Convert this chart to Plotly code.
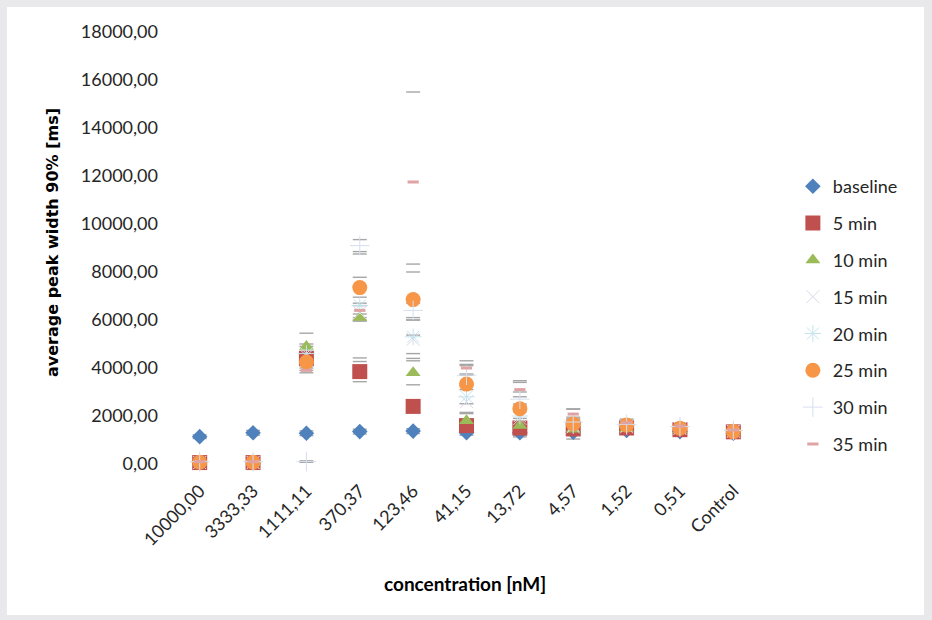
import plotly.graph_objects as go

# Concentrations (categorical x axis)
categories = ["10000,00", "3333,33", "1111,11", "370,37", "123,46", "41,15",
              "13,72", "4,57", "1,52", "0,51", "Control"]

# Average peak width 90% [ms] per time point
baseline = [1140, 1300, 1280, 1350, 1370, 1300, 1300, 1320, 1400, 1350, 1280]
min5 = [60, 60, 4400, 3850, 2400, 1600, 1500, 1460, 1500, 1430, 1340]
min10 = [50, 50, 4900, 6100, 3800, 1800, 1600, 1450, 1480, 1420, 1330]
min15 = [60, 60, 4500, 6300, 5200, 2600, 1900, 1550, 1550, 1480, 1360]
min20 = [60, 60, 4600, 6600, 5300, 2800, 2000, 1600, 1580, 1500, 1380]
min25 = [70, 70, 4250, 7350, 6850, 3330, 2300, 1670, 1620, 1490, 1350]
min30 = [100, 100, 100, 9100, 6400, 3700, 2700, 1750, 1650, 1560, 1400]
min35 = [100, 100, 3900, 6400, 11750, 4000, 3100, 2080, 1720, 1580, 1420]

# Standard deviations
err_base = [80, 100, 100, 100, 100, 100, 100, 100, 100, 100, 100]
err5 = [30, 30, 300, 420, 250, 250, 200, 150, 120, 100, 100]
err10 = [30, 30, 550, 1680, 500, 350, 300, 200, 150, 120, 100]
err15 = [30, 30, 400, 300, 800, 500, 400, 250, 150, 120, 100]
err20 = [30, 30, 400, 350, 700, 950, 500, 250, 150, 120, 100]
err25 = [30, 30, 350, 1400, 1480, 820, 1170, 630, 200, 150, 120]
err30 = [30, 30, 30, 250, 300, 400, 300, 200, 150, 120, 100]
err35 = [30, 30, 100, 300, 3750, 300, 300, 200, 150, 120, 100]

y_ticks = [0, 2000, 4000, 6000, 8000, 10000, 12000, 14000, 16000, 18000]

series = [
    ("baseline", baseline, err_base, dict(symbol="diamond", size=12, color="#4f81bd")),
    ("5 min", min5, err5, dict(symbol="square", size=15, color="#c0504d")),
    ("10 min", min10, err10, dict(symbol="triangle-up", size=13, color="#9bbb59")),
    ("15 min", min15, err15, dict(symbol="x-thin", size=13, color="#ddd7e8",
                                  line=dict(color="#ddd7e8", width=1))),
    ("20 min", min20, err20, dict(symbol="asterisk", size=14, color="#c4e4ee",
                                  line=dict(color="#c4e4ee", width=1))),
    ("25 min", min25, err25, dict(symbol="circle", size=15, color="#f79646")),
    ("30 min", min30, err30, dict(symbol="cross-thin", size=14, color="#d6deef",
                                  line=dict(color="#d6deef", width=1))),
    ("35 min", min35, err35, dict(symbol="line-ew", size=8, color="#e0a3a3",
                                  line=dict(color="#e0a3a3", width=3))),
]

fig = go.Figure()

# Error bar caps (drawn beneath the markers)
for name, vals, errs, _ in series:
    cap_x, cap_y = [], []
    for c, v, e in zip(categories, vals, errs):
        cap_x += [c, c]
        cap_y += [v + e, v - e]
    fig.add_trace(go.Scatter(
        x=cap_x, y=cap_y, mode="markers", showlegend=False, hoverinfo="skip",
        cliponaxis=False,
        marker=dict(symbol="line-ew", size=10, color="#a6a6a6",
                    line=dict(color="#a6a6a6", width=1.4)),
    ))

for i, (name, vals, errs, mk) in enumerate(series):
    fig.add_trace(go.Scatter(
        x=categories, y=vals, name=name, mode="markers", cliponaxis=False,
        legendgroup=f"g{i}",
        marker=mk,
    ))

fig.update_layout(
    width=932, height=620,
    margin=dict(l=173, r=172, t=32, b=156),
    paper_bgcolor="#e9e9ec",
    plot_bgcolor="rgba(0,0,0,0)",
    font=dict(family="Lato", size=18, color="#262626"),
    showlegend=True,
    legend=dict(x=1.056, xanchor="left", y=0.685, yanchor="top",
                bgcolor="rgba(0,0,0,0)", tracegroupgap=10.4,
                font=dict(family="Lato", size=18, color="#262626")),
    xaxis=dict(type="category", categoryorder="array", categoryarray=categories,
               range=[-0.5, len(categories) - 0.5], showgrid=False,
               zeroline=False, showline=False, ticks="", tickangle=-45,
               ticklabelstandoff=12, tickfont=dict(size=18)),
    yaxis=dict(range=[0, 18000], tickvals=y_ticks,
               ticktext=[f"{v:.2f}".replace(".", ",") for v in y_ticks],
               showgrid=False, zeroline=False, showline=False, ticks="",
               ticklabelstandoff=14, tickfont=dict(size=18)),
    shapes=[dict(type="rect", xref="paper", yref="paper", layer="below",
                 x0=(7 - 173) / 587, x1=(924 - 173) / 587,
                 y0=(464 - 615) / 432, y1=(464 - 7) / 432,
                 fillcolor="white", line=dict(width=0))],
    annotations=[
        dict(text="<b>concentration [nM]</b>", xref="paper", yref="paper",
             x=(465 - 173) / 587, y=(464 - 583) / 432, xanchor="center",
             yanchor="middle", showarrow=False,
             font=dict(size=19, color="#000000")),
        dict(text="<b>average peak width 90% [ms]</b>", xref="paper", yref="paper",
             x=(52 - 173) / 587, y=(464 - 243) / 432, xanchor="center",
             yanchor="middle", showarrow=False, textangle=-90,
             font=dict(family="DejaVu Sans", size=16, color="#000000")),
    ],
)

fig.write_html("out.html")
